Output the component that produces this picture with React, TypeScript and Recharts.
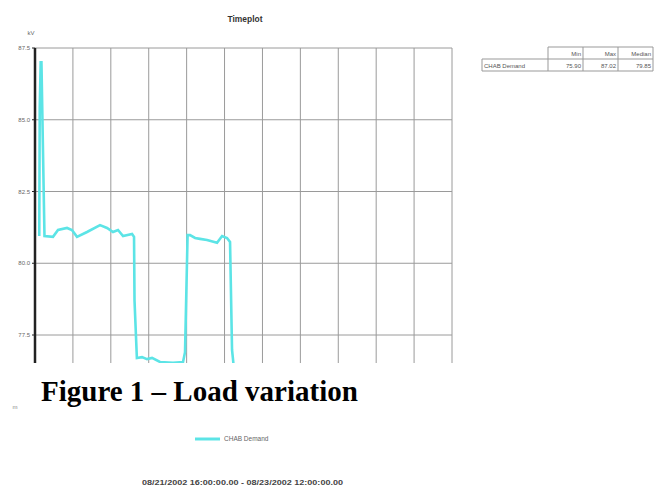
import React from "react";
import { LineChart, Line, XAxis, YAxis, CartesianGrid } from "recharts";

// time in hours since 08/21/2002 16:00
const hours = [
  0.45, 0.5, 0.6, 0.68, 1.0, 1.9, 2.43, 3.38, 3.9, 4.43, 5.49, 6.86, 7.6, 8.23, 8.76, 9.29, 10.24, 10.45,
  10.5, 10.75, 11.29, 11.82, 12.35, 13.19, 14.56, 15.62, 15.83, 16.1, 16.36, 16.89, 17.41, 18.15, 19.21,
  19.74, 20.26, 20.58, 20.79, 20.9, 21.1, 22.0,
];
const demandKV = [
  80.95, 85.4, 87.0, 87.0, 80.95, 80.92, 81.16, 81.23, 81.16, 80.92, 81.09, 81.33, 81.23, 81.09, 81.16, 80.95,
  81.02, 80.92, 78.7, 76.7, 76.73, 76.66, 76.7, 76.56, 76.53, 76.56, 76.9, 80.98, 80.98, 80.88, 80.85, 80.81,
  80.71, 80.95, 80.88, 80.74, 76.98, 76.63, 75.9, 75.95,
];
const yTicks = [77.5, 80, 82.5, 85, 87.5];
const xTicks = [0, 4, 8, 12, 16, 20, 24, 28, 32, 36, 40, 44];
const seriesName = "CHAB Demand";
const statHeaders = ["Min", "Max", "Median"];
const statValues = ["75.90", "87.02", "79.85"];
const chartTitle = "Timeplot";
const unitLabel = "kV";
const rangeLabel = "08/21/2002 16:00:00.00 - 08/23/2002 12:00:00.00";
const caption = "Figure 1 \u2013 Load variation";

const data = hours.map((h, i) => ({ h, v: demandKV[i] }));

const LINE = "#5ce4e6";
const SANS = "Liberation Sans, Arial, sans-serif";

export default function App() {
  const cellX = [548, 583, 618, 653];
  return (
    <div style={{ position: "absolute", left: 0, top: 0, width: 656, height: 492, background: "#fff", overflow: "hidden" }}>
      <div style={{ position: "absolute", left: 0, top: 0, width: 656, height: 363, overflow: "hidden" }}>
        <LineChart width={656} height={492} data={data} margin={{ top: 48, right: 204, bottom: 3.5, left: 0 }}>
          <CartesianGrid stroke="#9a9a9a" strokeWidth={1} />
          <XAxis
            dataKey="h"
            type="number"
            domain={[0, 44]}
            ticks={xTicks}
            interval={0}
            height={10}
            tick={() => <g />}
            axisLine={false}
            tickLine={false}
          />
          <YAxis
            type="number"
            domain={[72.5, 87.5]}
            ticks={yTicks}
            width={35}
            interval={0}
            tickFormatter={(v: number) => v.toFixed(1)}
            tick={{ fontSize: 6, fill: "#666", fontFamily: SANS }}
            tickSize={3}
            tickLine={{ stroke: "#222" }}
            axisLine={{ stroke: "#222", strokeWidth: 2.5 }}
          />
          <Line
            type="linear"
            dataKey="v"
            stroke={LINE}
            strokeWidth={2.6}
            dot={false}
            isAnimationActive={false}
          />
        </LineChart>
      </div>
      <svg width={656} height={492} style={{ position: "absolute", left: 0, top: 0, pointerEvents: "none" }}>
        <text x={245} y={22} textAnchor="middle" fontFamily={SANS} fontWeight="bold" fontSize={9.5} fill="#333" textLength={35} lengthAdjust="spacingAndGlyphs">
          {chartTitle}
        </text>
        <text x={31} y={35} textAnchor="middle" fontFamily={SANS} fontSize={6} fill="#666">
          {unitLabel}
        </text>
        {/* stats table */}
        <g stroke="#999" strokeWidth={1} fill="none">
          <line x1={548} y1={47} x2={653} y2={47} />
          <line x1={482} y1={59} x2={653} y2={59} />
          <line x1={482} y1={71} x2={653} y2={71} />
          <line x1={482} y1={59} x2={482} y2={71} />
          {cellX.map((x) => (
            <line key={x} x1={x} y1={47} x2={x} y2={71} />
          ))}
        </g>
        {statHeaders.map((s, i) => (
          <text key={s} x={cellX[i + 1] - 2} y={56} textAnchor="end" fontFamily={SANS} fontSize={6} fill="#555">
            {s}
          </text>
        ))}
        <text x={484} y={68} fontFamily={SANS} fontSize={6} fill="#555">
          {seriesName}
        </text>
        {statValues.map((s, i) => (
          <text key={i} x={cellX[i + 1] - 2} y={68} textAnchor="end" fontFamily={SANS} fontSize={6} fill="#555">
            {s}
          </text>
        ))}
        {/* caption */}
        <text x={41} y={401} fontFamily="Liberation Serif, 'Times New Roman', serif" fontWeight="bold" fontSize={29} fill="#000">
          {caption}
        </text>
        <text x={15} y={409} textAnchor="middle" fontFamily={SANS} fontSize={6} fill="#888">
          m
        </text>
        {/* legend */}
        <line x1={195} y1={439} x2={220} y2={439} stroke={LINE} strokeWidth={3} />
        <text x={224} y={441} fontFamily={SANS} fontSize={6.5} fill="#666">
          {seriesName}
        </text>
        <text x={142} y={485} fontFamily={SANS} fontSize={7} fontWeight="bold" fill="#444" textLength={201} lengthAdjust="spacingAndGlyphs">
          {rangeLabel}
        </text>
      </svg>
    </div>
  );
}
